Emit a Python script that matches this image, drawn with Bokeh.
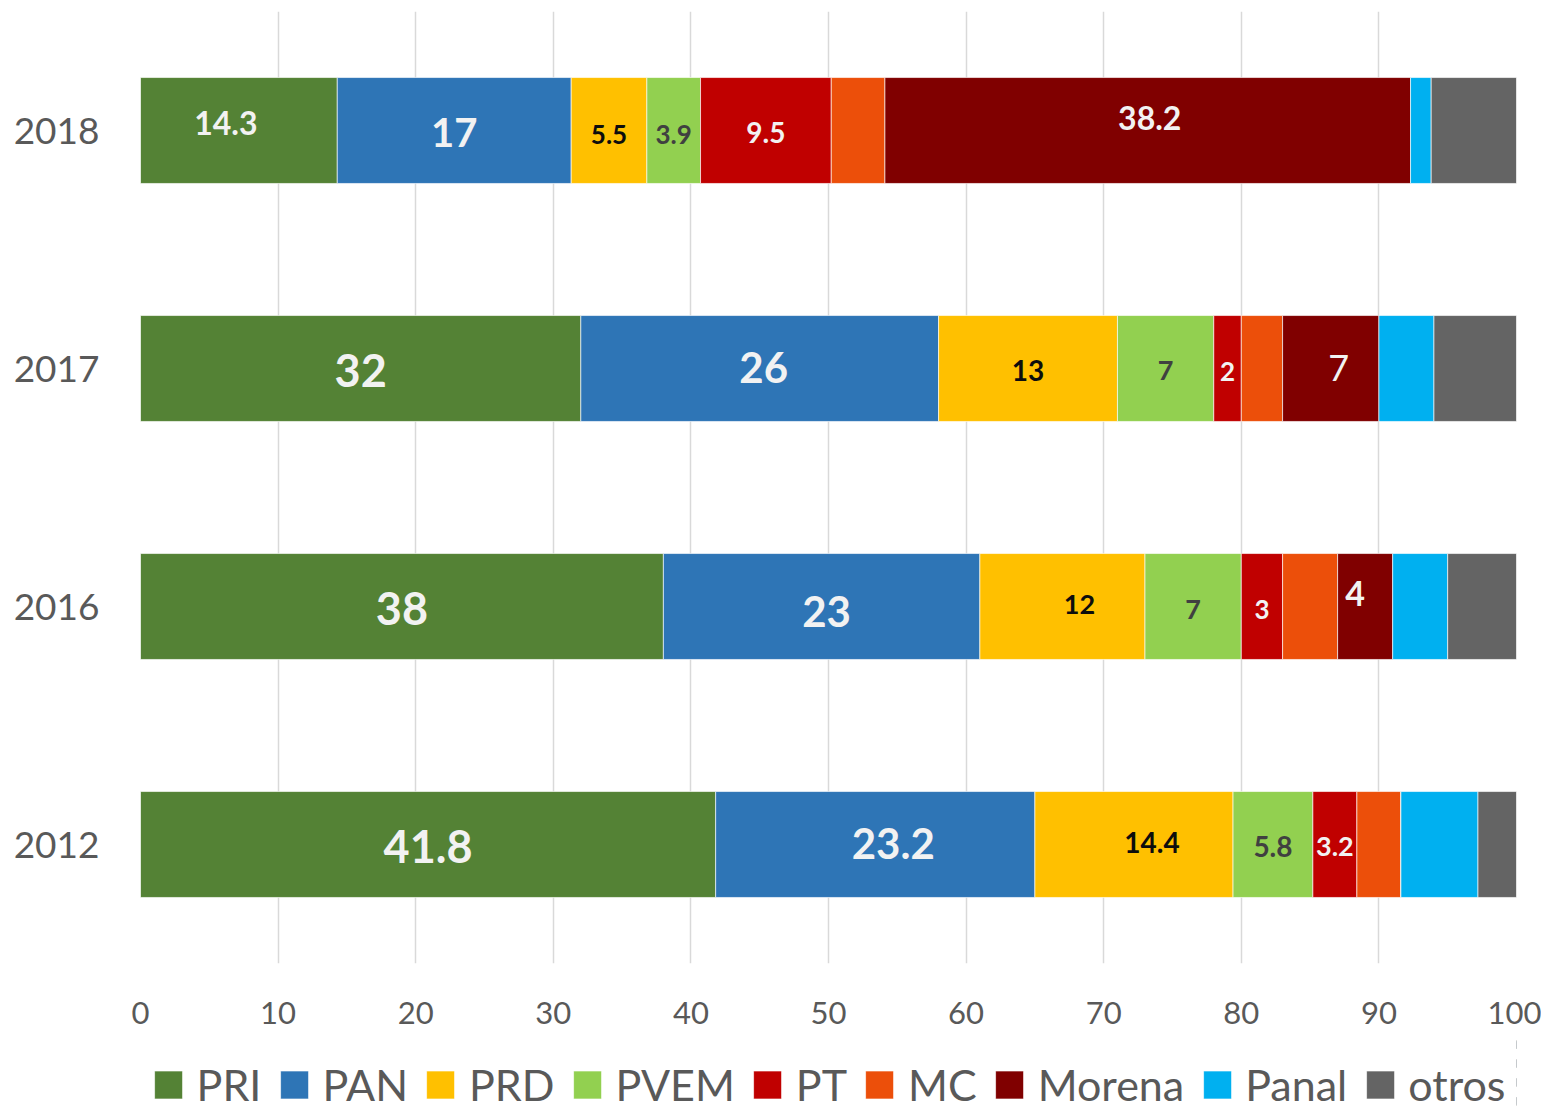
from bokeh.plotting import figure
from bokeh.models import ColumnDataSource, Legend, LegendItem, FactorRange
from bokeh.layouts import column
from bokeh.core.properties import value
from bokeh.embed import file_html
from bokeh.resources import INLINE

# ---------------- data ----------------
years = ["2012", "2016", "2017", "2018"]
parties = ["PRI", "PAN", "PRD", "PVEM", "PT", "MC", "Morena", "Panal", "otros"]

PRI = [41.8, 38, 32, 14.3]
PAN = [23.2, 23, 26, 17]
PRD = [14.4, 12, 13, 5.5]
PVEM = [5.8, 7, 7, 3.9]
PT = [3.2, 3, 2, 9.5]
MC = [3.2, 4, 3, 3.9]
Morena = [0, 4, 7, 38.2]
Panal = [5.6, 4, 4, 1.5]
otros = [2.8, 5, 6, 6.2]

values = {"PRI": PRI, "PAN": PAN, "PRD": PRD, "PVEM": PVEM, "PT": PT,
          "MC": MC, "Morena": Morena, "Panal": Panal, "otros": otros}

colors = ["#548235", "#2E75B6", "#FFC000", "#92D050", "#C00000",
          "#EC4F0A", "#800000", "#00B0F0", "#646464"]

labelled = ["PRI", "PAN", "PRD", "PVEM", "PT", "Morena"]

# ---------------- label styles (per series, per year) ----------------
label_size = {"PRI": [45, 45, 45, 32], "PAN": [42, 42, 42, 40],
              "PRD": [28, 27, 28, 26], "PVEM": [28, 27, 27, 26],
              "PT": [27, 26, 26, 28], "Morena": [0, 34, 36, 32]}
label_color = {"PRI": "#F2F2F2", "PAN": "#F2F2F2", "PRD": "#0D0D0D",
               "PVEM": "#404040", "PT": "#F2F2F2", "Morena": "#F2F2F2"}
label_weight = {"PRI": ["bold"] * 4, "PAN": ["bold"] * 4, "PRD": ["bold"] * 4,
                "PVEM": ["bold"] * 4, "PT": ["bold"] * 4,
                "Morena": ["bold", "bold", "normal", "bold"]}
label_dx = {"PRI": [0, 0, 0, -13], "PAN": [18, 5, 4, 0], "PRD": [18, 17, 0, 0],
            "PVEM": [0, 0, 0, 0], "PT": [0, 0, 0, 0], "Morena": [0, -10, 8, 2]}
label_dy = {"PRI": [2, 2, 2, -8], "PAN": [-1, 5, -1, 2], "PRD": [-2, -2, 2, 4],
            "PVEM": [2, 3, 2, 4], "PT": [2, 3, 3, 2], "Morena": [0, -13, -1, -13]}

FONT = "Lato"
GREY = "#595959"

src = ColumnDataSource(dict(year=years, **values))

# ---------------- main chart ----------------
p = figure(y_range=FactorRange(*years), x_range=(0, 100),
           frame_width=1376, frame_height=952,
           output_backend="svg", toolbar_location=None,
           min_border_left=140, min_border_right=25,
           min_border_top=11, min_border_bottom=72)

bar_kw = dict(y="year", height=0.445, color=colors,
              line_color="white", line_width=0.8, line_alpha=0.8, source=src)
p.hbar_stack(parties, **bar_kw)

# value labels
lx, ly, lt, ls, lc, lw, ldx, ldy = [], [], [], [], [], [], [], []
for i, yr in enumerate(years):
    cum = 0.0
    for party in parties:
        v = values[party][i]
        if party in labelled and v > 0:
            lx.append(cum + v / 2.0)
            ly.append(yr)
            lt.append(f"{v:g}")
            ls.append(f"{label_size[party][i]}px")
            lc.append(label_color[party])
            lw.append(label_weight[party][i])
            ldx.append(label_dx[party][i])
            ldy.append(label_dy[party][i])
        cum += v

lab_src = ColumnDataSource(dict(x=lx, y=ly, text=lt, size=ls, color=lc,
                                weight=lw, dx=ldx, dy=ldy))
p.text(x="x", y="y", text="text", source=lab_src,
       text_font=value(FONT), text_font_size="size", text_color="color",
       text_font_style="weight", x_offset="dx", y_offset="dy",
       text_align="center", text_baseline="middle")

# axes & grid
p.xaxis.ticker = list(range(0, 101, 10))
p.xaxis.axis_line_color = None
p.xaxis.major_tick_line_color = None
p.xaxis.minor_tick_line_color = None
p.xaxis.major_label_text_font = FONT
p.xaxis.major_label_text_font_size = "31px"
p.xaxis.major_label_text_color = GREY
p.xaxis.major_label_standoff = 32

p.yaxis.axis_line_color = None
p.yaxis.major_tick_line_color = None
p.yaxis.minor_tick_line_color = None
p.yaxis.major_tick_out = 0
p.yaxis.major_tick_in = 0
p.yaxis.major_label_text_font = FONT
p.yaxis.major_label_text_font_size = "37px"
p.yaxis.major_label_text_color = GREY
p.yaxis.major_label_standoff = 41

p.xgrid.grid_line_color = "#D9D9D9"
p.xgrid.grid_line_width = 1.5
p.ygrid.grid_line_color = None
p.outline_line_color = None

# ---------------- legend strip (same series, bars kept out of view) ----------------
lg = figure(y_range=FactorRange(*years), x_range=(-300, -200),
            width=1541, height=75, output_backend="svg", toolbar_location=None,
            x_axis_location=None, y_axis_location=None,
            min_border_left=0, min_border_right=0, min_border_top=0,
            min_border_bottom=0)
lg.grid.visible = False
lg.outline_line_color = None
leg_renderers = lg.hbar_stack(parties, **bar_kw)

items = [LegendItem(label=party, renderers=[r])
         for party, r in zip(parties, leg_renderers)]
legend = Legend(items=items, orientation="horizontal", location="bottom_center",
                label_text_font=FONT, label_text_font_size="43px",
                label_text_color=GREY, glyph_width=35, glyph_height=35,
                label_standoff=11, spacing=15, padding=0, margin=0,
                border_line_color=None, background_fill_alpha=0)
lg.add_layout(legend, "center")

open("out.html", "w").write(file_html(column(p, lg, spacing=0), INLINE))
